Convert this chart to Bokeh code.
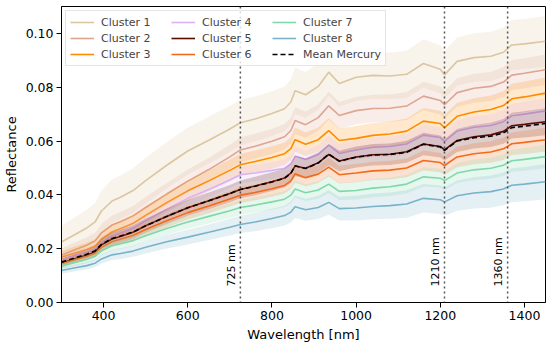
import math
from bokeh.plotting import figure
from bokeh.models import (Span, Legend, LegendItem, FixedTicker, PrintfTickFormatter,
                          ColumnDataSource, Range1d)
from bokeh.embed import file_html
from bokeh.resources import INLINE
from bokeh.core.properties import value

# ---------------- data ----------------
wavelength = [300, 330, 360, 380, 395, 420, 440, 470, 500, 550, 600, 650, 700, 725, 760,
              800, 830, 845, 855, 880, 910, 935, 960, 1000, 1040, 1080, 1120, 1160, 1200,
              1210, 1240, 1280, 1320, 1350, 1370, 1400, 1450]

mean_mercury = [0.0150, 0.0165, 0.0179, 0.0192, 0.0216, 0.0238, 0.0247, 0.0262, 0.0285, 0.0320,
                0.0352, 0.0378, 0.0405, 0.0420, 0.0432, 0.0448, 0.0462, 0.0480, 0.0508, 0.0498,
                0.0518, 0.0552, 0.0525, 0.0540, 0.0548, 0.0550, 0.0558, 0.0588, 0.0578, 0.0565,
                0.0600, 0.0612, 0.0618, 0.0630, 0.0650, 0.0655, 0.0665]

cluster1 = [0.0225, 0.0251, 0.0277, 0.0300, 0.0340, 0.0377, 0.0391, 0.0416, 0.0453, 0.0510,
            0.0563, 0.0603, 0.0645, 0.0668, 0.0682, 0.0702, 0.0720, 0.0745, 0.0787, 0.0772,
            0.0803, 0.0856, 0.0814, 0.0837, 0.0844, 0.0842, 0.0848, 0.0888, 0.0867, 0.0846,
            0.0896, 0.0910, 0.0915, 0.0930, 0.0957, 0.0961, 0.0971]
cluster2 = [0.0176, 0.0195, 0.0213, 0.0229, 0.0259, 0.0288, 0.0300, 0.0322, 0.0353, 0.0403,
            0.0451, 0.0494, 0.0541, 0.0567, 0.0581, 0.0599, 0.0616, 0.0639, 0.0676, 0.0661,
            0.0687, 0.0731, 0.0695, 0.0713, 0.0721, 0.0722, 0.0730, 0.0767, 0.0751, 0.0735,
            0.0780, 0.0796, 0.0803, 0.0819, 0.0845, 0.0852, 0.0865]
cluster3 = [0.0168, 0.0183, 0.0197, 0.0210, 0.0236, 0.0262, 0.0274, 0.0294, 0.0324, 0.0371,
            0.0415, 0.0452, 0.0491, 0.0512, 0.0524, 0.0539, 0.0553, 0.0572, 0.0605, 0.0588,
            0.0605, 0.0639, 0.0602, 0.0610, 0.0621, 0.0626, 0.0637, 0.0674, 0.0665, 0.0650,
            0.0692, 0.0708, 0.0717, 0.0732, 0.0757, 0.0764, 0.0778]
cluster4 = [0.0161, 0.0175, 0.0187, 0.0199, 0.0223, 0.0247, 0.0258, 0.0276, 0.0304, 0.0347,
            0.0387, 0.0420, 0.0455, 0.0475, 0.0481, 0.0491, 0.0499, 0.0516, 0.0544, 0.0531,
            0.0550, 0.0585, 0.0554, 0.0567, 0.0577, 0.0580, 0.0589, 0.0622, 0.0613, 0.0599,
            0.0637, 0.0651, 0.0658, 0.0672, 0.0694, 0.0700, 0.0712]
cluster5 = [0.0147, 0.0162, 0.0176, 0.0189, 0.0214, 0.0236, 0.0245, 0.0261, 0.0285, 0.0320,
            0.0352, 0.0378, 0.0405, 0.0420, 0.0433, 0.0449, 0.0463, 0.0481, 0.0507, 0.0499,
            0.0519, 0.0550, 0.0526, 0.0541, 0.0549, 0.0551, 0.0560, 0.0589, 0.0580, 0.0567,
            0.0602, 0.0616, 0.0623, 0.0636, 0.0657, 0.0662, 0.0672]
cluster6 = [0.0144, 0.0158, 0.0171, 0.0183, 0.0205, 0.0226, 0.0235, 0.0249, 0.0271, 0.0304,
            0.0334, 0.0359, 0.0385, 0.0399, 0.0409, 0.0423, 0.0435, 0.0452, 0.0478, 0.0464,
            0.0477, 0.0503, 0.0475, 0.0481, 0.0489, 0.0492, 0.0500, 0.0528, 0.0520, 0.0509,
            0.0541, 0.0553, 0.0559, 0.0571, 0.0590, 0.0595, 0.0605]
cluster7 = [0.0137, 0.0149, 0.0161, 0.0172, 0.0192, 0.0211, 0.0218, 0.0230, 0.0248, 0.0275,
            0.0299, 0.0320, 0.0341, 0.0353, 0.0362, 0.0374, 0.0384, 0.0399, 0.0422, 0.0408,
            0.0418, 0.0440, 0.0413, 0.0416, 0.0425, 0.0430, 0.0440, 0.0467, 0.0462, 0.0453,
            0.0481, 0.0493, 0.0499, 0.0510, 0.0527, 0.0532, 0.0542]
cluster8 = [0.0119, 0.0128, 0.0137, 0.0146, 0.0162, 0.0177, 0.0182, 0.0191, 0.0205, 0.0226,
            0.0243, 0.0261, 0.0280, 0.0290, 0.0299, 0.0312, 0.0323, 0.0336, 0.0356, 0.0345,
            0.0353, 0.0372, 0.0349, 0.0351, 0.0357, 0.0360, 0.0366, 0.0387, 0.0382, 0.0374,
            0.0397, 0.0407, 0.0412, 0.0422, 0.0436, 0.0440, 0.0449]

# standard deviation (half-width of shaded band) per cluster
std1 = [0.0060, 0.0064, 0.0068, 0.0071, 0.0076, 0.0080, 0.0081, 0.0083, 0.0085, 0.0086,
        0.0087, 0.0087, 0.0086, 0.0085, 0.0084, 0.0083, 0.0083, 0.0084, 0.0086, 0.0085,
        0.0086, 0.0088, 0.0086, 0.0087, 0.0087, 0.0087, 0.0088, 0.0090, 0.0089, 0.0088,
        0.0090, 0.0091, 0.0091, 0.0092, 0.0093, 0.0093, 0.0094]
std2 = [0.0025, 0.0027, 0.0029, 0.0030, 0.0033, 0.0035, 0.0036, 0.0037, 0.0039, 0.0041,
        0.0043, 0.0044, 0.0045, 0.0046, 0.0046, 0.0047, 0.0047, 0.0048, 0.0050, 0.0049,
        0.0050, 0.0052, 0.0050, 0.0051, 0.0051, 0.0051, 0.0052, 0.0053, 0.0052, 0.0051,
        0.0053, 0.0054, 0.0054, 0.0055, 0.0056, 0.0056, 0.0057]
std3 = [0.0022, 0.0024, 0.0025, 0.0026, 0.0028, 0.0030, 0.0031, 0.0032, 0.0034, 0.0036,
        0.0038, 0.0039, 0.0040, 0.0041, 0.0041, 0.0042, 0.0042, 0.0043, 0.0045, 0.0044,
        0.0045, 0.0047, 0.0045, 0.0046, 0.0046, 0.0047, 0.0047, 0.0049, 0.0048, 0.0047,
        0.0050, 0.0051, 0.0052, 0.0053, 0.0056, 0.0057, 0.0058]
std4 = [0.0015, 0.0016, 0.0017, 0.0018, 0.0020, 0.0021, 0.0022, 0.0023, 0.0024, 0.0026,
        0.0028, 0.0029, 0.0030, 0.0031, 0.0031, 0.0032, 0.0032, 0.0033, 0.0035, 0.0034,
        0.0035, 0.0037, 0.0035, 0.0036, 0.0036, 0.0037, 0.0037, 0.0039, 0.0038, 0.0037,
        0.0040, 0.0041, 0.0042, 0.0043, 0.0045, 0.0046, 0.0047]
std5 = [0.0016, 0.0017, 0.0018, 0.0019, 0.0021, 0.0023, 0.0024, 0.0025, 0.0026, 0.0028,
        0.0030, 0.0031, 0.0032, 0.0033, 0.0034, 0.0035, 0.0035, 0.0036, 0.0038, 0.0037,
        0.0038, 0.0040, 0.0038, 0.0039, 0.0040, 0.0040, 0.0041, 0.0042, 0.0041, 0.0040,
        0.0043, 0.0044, 0.0045, 0.0046, 0.0048, 0.0049, 0.0050]
std6 = [0.0013, 0.0014, 0.0015, 0.0016, 0.0018, 0.0019, 0.0020, 0.0021, 0.0022, 0.0024,
        0.0026, 0.0027, 0.0028, 0.0029, 0.0029, 0.0030, 0.0030, 0.0031, 0.0033, 0.0032,
        0.0033, 0.0035, 0.0033, 0.0034, 0.0034, 0.0035, 0.0035, 0.0037, 0.0036, 0.0035,
        0.0038, 0.0039, 0.0040, 0.0041, 0.0042, 0.0043, 0.0044]
std7 = [0.0013, 0.0014, 0.0015, 0.0016, 0.0017, 0.0018, 0.0019, 0.0020, 0.0021, 0.0023,
        0.0025, 0.0026, 0.0027, 0.0028, 0.0028, 0.0029, 0.0029, 0.0030, 0.0032, 0.0031,
        0.0032, 0.0034, 0.0032, 0.0033, 0.0034, 0.0034, 0.0035, 0.0036, 0.0035, 0.0035,
        0.0037, 0.0038, 0.0039, 0.0040, 0.0041, 0.0042, 0.0043]
std8 = [0.0012, 0.0013, 0.0014, 0.0015, 0.0017, 0.0019, 0.0020, 0.0021, 0.0023, 0.0025,
        0.0027, 0.0029, 0.0031, 0.0032, 0.0034, 0.0036, 0.0037, 0.0039, 0.0042, 0.0041,
        0.0043, 0.0046, 0.0044, 0.0046, 0.0048, 0.0049, 0.0051, 0.0053, 0.0053, 0.0052,
        0.0056, 0.0058, 0.0060, 0.0061, 0.0063, 0.0064, 0.0066]

cluster_names = ["Cluster 1", "Cluster 2", "Cluster 3", "Cluster 4",
                 "Cluster 5", "Cluster 6", "Cluster 7", "Cluster 8"]
cluster_colors = ["#dcc6a0", "#dea590", "#ff8c00", "#d9b2f5",
                  "#5c0c00", "#f26a1b", "#80d8aa", "#79b3c9"]
cluster_values = [cluster1, cluster2, cluster3, cluster4, cluster5, cluster6, cluster7, cluster8]
cluster_stds = [std1, std2, std3, std4, std5, std6, std7, std8]

marker_lines = [725, 1210, 1360]
marker_labels = ["725 nm", "1210 nm", "1360 nm"]

x_ticks = [400, 600, 800, 1000, 1200, 1400]
y_ticks = [0.00, 0.02, 0.04, 0.06, 0.08, 0.10]

FONT = "DejaVu Sans"

# ---------------- figure ----------------
p = figure(width=550, height=344, output_backend="svg", toolbar_location=None,
           x_range=Range1d(300, 1450), y_range=Range1d(0, 0.11),
           min_border_left=58, min_border_right=5, min_border_top=6, min_border_bottom=42)
p.background_fill_color = "white"
p.border_fill_color = "white"
p.outline_line_color = "black"
p.outline_line_width = 1
p.grid.visible = False

items = []
for name, color, vals, sd in zip(cluster_names, cluster_colors, cluster_values, cluster_stds):
    src = ColumnDataSource(dict(
        x=wavelength, y=vals,
        lo=[v - s for v, s in zip(vals, sd)],
        hi=[v + s for v, s in zip(vals, sd)]))
    p.varea(x="x", y1="lo", y2="hi", source=src, fill_color=color, fill_alpha=0.2)
    r = p.line(x="x", y="y", source=src, line_color=color, line_width=1.6)
    items.append(LegendItem(label=name, renderers=[r]))

rm = p.line(wavelength, mean_mercury, line_color="black", line_width=1.6, line_dash="5 3")
items.append(LegendItem(label="Mean Mercury", renderers=[rm]))

for w in marker_lines:
    p.add_layout(Span(location=w, dimension="height", line_color="#444444",
                      line_width=1.5, line_dash="2 3", line_alpha=0.9))

p.text(x=marker_lines, y=[0] * len(marker_lines), text=marker_labels,
       angle=math.pi / 2, x_offset=-9, y_offset=-16,
       text_align="left", text_baseline="middle",
       text_font=value(FONT), text_font_size="11px", text_color="black")

# axes
p.xaxis.ticker = FixedTicker(ticks=x_ticks)
p.yaxis.ticker = FixedTicker(ticks=y_ticks)
p.yaxis.formatter = PrintfTickFormatter(format="%.2f")
p.xaxis.axis_label = "Wavelength [nm]"
p.yaxis.axis_label = "Reflectance"
for ax in (p.xaxis, p.yaxis):
    ax.minor_tick_line_color = None
    ax.major_tick_in = 0
    ax.major_tick_out = 5
    ax.major_tick_line_color = "black"
    ax.axis_line_color = "black"
    ax.major_label_text_font = FONT
    ax.major_label_text_font_size = "12.5px"
    ax.major_label_text_color = "black"
    ax.axis_label_text_font = FONT
    ax.axis_label_text_font_size = "13px"
    ax.axis_label_text_font_style = "normal"
    ax.axis_label_text_color = "black"
    ax.major_label_standoff = 3
    ax.axis_label_standoff = 4

legend = Legend(items=items, location="top_left", orientation="vertical", ncols=3,
                label_text_font=FONT, label_text_font_size="11px",
                glyph_width=24, glyph_height=14, label_standoff=7, spacing=2,
                label_width=68, padding=4, margin=4,
                border_line_color="#cccccc", background_fill_alpha=0.8)
p.add_layout(legend)

open("out.html", "w").write(file_html(p, INLINE))
